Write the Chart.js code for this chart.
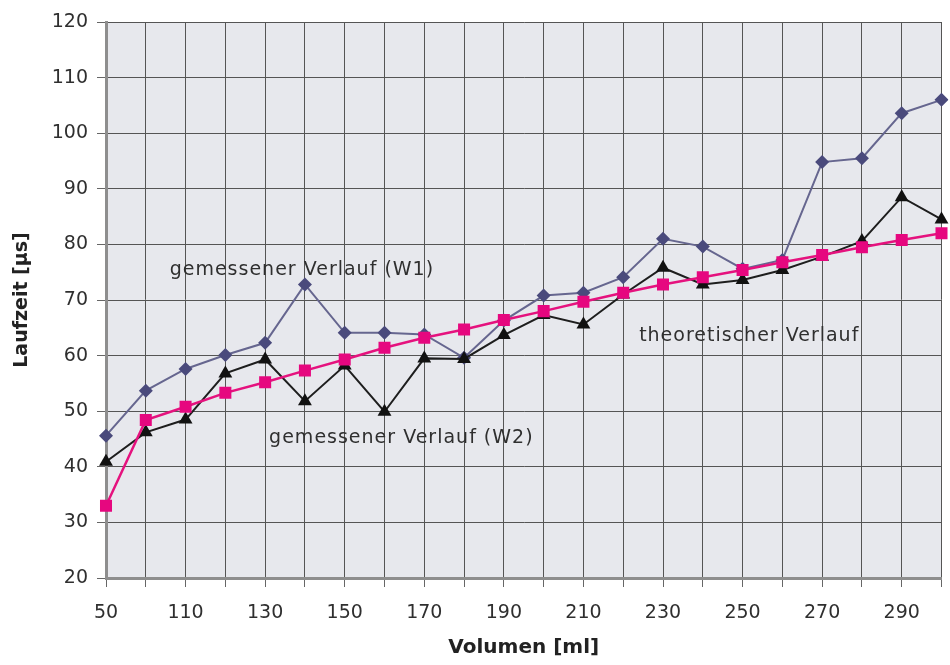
<!DOCTYPE html>
<html>
<head>
<meta charset="utf-8">
<script src="https://cdn.jsdelivr.net/npm/chart.js@4.4.1/dist/chart.umd.min.js"></script>
<style>
  html, body { margin: 0; padding: 0; background: #ffffff; }
  #wrap { width: 950px; height: 665px; position: relative; }
</style>
</head>
<body>
<div id="wrap"><canvas id="c" width="950" height="665"></canvas></div>
<script>
// Volumen [ml] on the category axis
const volumes = [50, 100, 110, 120, 130, 140, 150, 160, 170, 180, 190, 200, 210, 220, 230, 240, 250, 260, 270, 280, 290, 300];
// Laufzeit [µs], measured W1
const measuredW1 = [45.6, 53.7, 57.6, 60.1, 62.3, 72.8, 64.1, 64.1, 63.8, 59.6, 66.3, 70.8, 71.3, 74.1, 81.0, 79.6, 75.6, 77.2, 94.8, 95.5, 103.6, 106.0];
// Laufzeit [µs], measured W2
const measuredW2 = [40.9, 46.2, 48.5, 56.8, 59.3, 51.8, 58.2, 49.9, 59.5, 59.4, 63.7, 67.3, 65.6, 71.0, 75.8, 72.8, 73.6, 75.4, 77.8, 80.6, 88.5, 84.5];
// Laufzeit [µs], theoretical
const theoretical = [33.0, 48.4, 50.8, 53.3, 55.2, 57.3, 59.3, 61.4, 63.2, 64.7, 66.4, 68.0, 69.7, 71.3, 72.8, 74.1, 75.4, 76.8, 78.1, 79.5, 80.8, 82.0];
const yTicks = { min: 20, max: 120, step: 10 };

// Curve labels: text, anchor category index (fractional) and value
const curveLabels = [
  { text: 'gemessener Verlauf (W1)', idx: 1.6, val: 75.3 },
  { text: 'gemessener Verlauf (W2)', idx: 4.1, val: 45.2 },
  { text: 'theoretischer Verlauf', idx: 13.4, val: 63.6 }
];

const FONT = 'DejaVu Sans';
const TEXT = '#2f2f2f';

const plotBackground = {
  id: 'plotBackground',
  beforeDraw(chart) {
    const { ctx, chartArea: a } = chart;
    ctx.save();
    ctx.fillStyle = '#e7e8ed';
    ctx.fillRect(a.left, a.top, a.right - a.left, a.bottom - a.top);
    ctx.restore();
  }
};

const curveText = {
  id: 'curveText',
  afterDatasetsDraw(chart) {
    const { ctx, scales } = chart;
    ctx.save();
    ctx.font = '19px "' + FONT + '"';
    ctx.fillStyle = TEXT;
    ctx.textAlign = 'left';
    ctx.textBaseline = 'middle';
    if ('letterSpacing' in ctx) ctx.letterSpacing = '1px';
    curveLabels.forEach(l => {
      ctx.fillText(l.text, scales.x.getPixelForValue(l.idx), scales.y.getPixelForValue(l.val));
    });
    ctx.restore();
  }
};

new Chart(document.getElementById('c'), {
  type: 'line',
  data: {
    labels: volumes,
    datasets: [
      {
        label: 'gemessener Verlauf (W1)',
        data: measuredW1,
        borderColor: '#66668f',
        backgroundColor: '#4a4a7c',
        borderWidth: 2,
        pointStyle: 'rectRot',
        pointRadius: 7,
        pointBorderWidth: 0,
        tension: 0,
        order: 2
      },
      {
        label: 'gemessener Verlauf (W2)',
        data: measuredW2,
        borderColor: '#1e1e1e',
        backgroundColor: '#111111',
        borderWidth: 2,
        pointStyle: 'triangle',
        pointRadius: 8,
        pointBorderWidth: 0,
        tension: 0,
        order: 1
      },
      {
        label: 'theoretischer Verlauf',
        data: theoretical,
        borderColor: '#e5127e',
        backgroundColor: '#e6077f',
        borderWidth: 2.5,
        pointStyle: 'rect',
        pointRadius: 8.5,
        pointBorderWidth: 0,
        tension: 0,
        order: 0
      }
    ]
  },
  options: {
    responsive: false,
    animation: false,
    devicePixelRatio: 1,
    layout: { padding: { left: 0, right: 4, top: 22, bottom: 0 } },
    plugins: {
      legend: { display: false },
      tooltip: { enabled: false }
    },
    scales: {
      x: {
        type: 'category',
        offset: false,
        afterFit(scale) {
          scale.height = 87;
          scale.paddingLeft = 0;
          scale.paddingRight = 0;
        },
        grid: {
          color: '#555555',
          lineWidth: 1,
          drawTicks: true,
          tickLength: 9,
          tickColor: '#666666'
        },
        border: { color: '#8e8e8e', width: 3 },
        ticks: {
          autoSkip: false,
          maxRotation: 0,
          minRotation: 0,
          padding: 15,
          color: TEXT,
          font: { family: FONT, size: 19 },
          callback(value, index) { return index % 2 === 0 ? String(volumes[index]) : ''; }
        },
        title: {
          display: true,
          text: 'Volumen [ml]',
          color: '#222222',
          font: { family: FONT, size: 20, weight: 'bold' },
          padding: { top: 0, bottom: 5 }
        }
      },
      y: {
        min: yTicks.min,
        max: yTicks.max,
        afterFit(scale) {
          scale.width = 106;
          scale.paddingTop = 0;
          scale.paddingBottom = 0;
        },
        grid: {
          color: '#555555',
          lineWidth: 1,
          drawTicks: true,
          tickLength: 9,
          tickColor: '#666666'
        },
        border: { color: '#8e8e8e', width: 3 },
        ticks: {
          stepSize: yTicks.step,
          padding: 9,
          color: TEXT,
          font: { family: FONT, size: 19 }
        },
        title: {
          display: true,
          text: 'Laufzeit [µs]',
          color: '#222222',
          font: { family: FONT, size: 19, weight: 'bold' },
          padding: { top: 11, bottom: 0 }
        }
      }
    }
  },
  plugins: [plotBackground, curveText]
});
</script>
</body>
</html>
